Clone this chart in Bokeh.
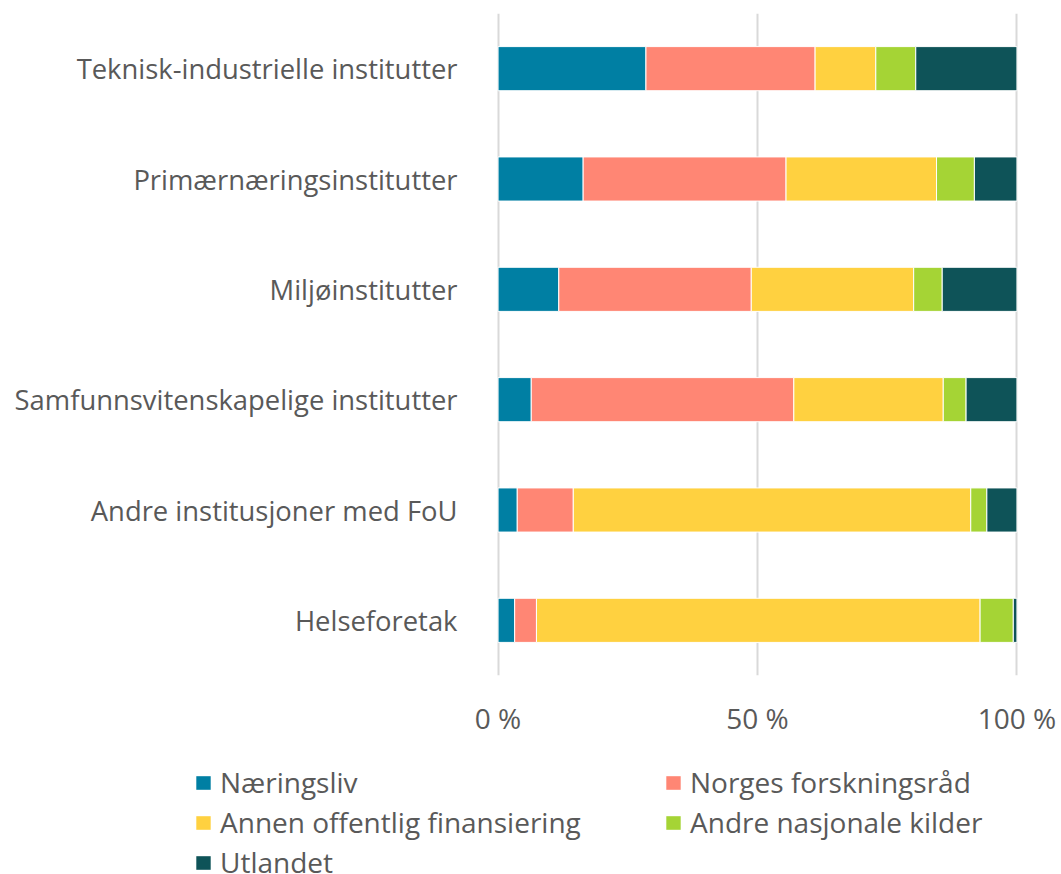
from bokeh.plotting import figure
from bokeh.layouts import column, row
from bokeh.models import FactorRange, FixedTicker, Legend, LegendItem, Range1d
from bokeh.embed import file_html
from bokeh.resources import INLINE

categories = ["Teknisk-industrielle institutter", "Primærnæringsinstitutter", "Miljøinstitutter",
              "Samfunnsvitenskapelige institutter", "Andre institusjoner med FoU", "Helseforetak"]
series = ["Næringsliv", "Norges forskningsråd", "Annen offentlig finansiering",
          "Andre nasjonale kilder", "Utlandet"]
naeringsliv = [28.5, 16.4, 11.7, 6.4, 3.7, 3.2]
forskningsrad = [32.6, 39.1, 37.1, 50.6, 10.8, 4.2]
annen_offentlig = [11.7, 29.0, 31.3, 28.8, 76.6, 85.5]
andre_nasjonale = [7.7, 7.3, 5.5, 4.4, 3.1, 6.4]
utlandet = [19.5, 8.2, 14.4, 9.8, 5.8, 0.7]
tick_values = [0, 50, 100]
tick_labels = ["0 %", "50 %", "100 %"]
colors = ["#007FA3", "#FF8674", "#FFD140", "#A5D435", "#0E5358"]

FONT = "Open Sans"
GREY = "#595959"

data = {"cat": categories}
for name, vals in zip(series, [naeringsliv, forskningsrad, annen_offentlig, andre_nasjonale, utlandet]):
    data[name] = vals

p = figure(width=1061, height=740, output_backend="svg", toolbar_location=None,
           y_range=FactorRange(factors=list(reversed(categories)), range_padding=0),
           x_range=Range1d(-0.3, 100.3))
p.min_border_left = 496
p.min_border_right = 43
p.min_border_top = 13
p.min_border_bottom = 65
p.outline_line_color = None

renderers = p.hbar_stack(series, y="cat", height=0.4, color=colors, source=data,
                         line_color="white", line_width=1)

p.ygrid.grid_line_color = None
p.xgrid.grid_line_color = "#D9D9D9"
p.xgrid.grid_line_width = 2
p.xaxis.ticker = FixedTicker(ticks=tick_values)
p.xaxis.major_label_overrides = {v: l for v, l in zip(tick_values, tick_labels)}
p.xaxis.axis_line_color = None
p.xaxis.major_tick_line_color = None
p.xaxis.minor_tick_line_color = None
p.xaxis.major_tick_out = 0
p.xaxis.major_label_standoff = 23
p.xaxis.major_label_text_font = FONT
p.xaxis.major_label_text_font_size = "28px"
p.xaxis.major_label_text_color = GREY

p.yaxis.axis_line_color = None
p.yaxis.major_tick_line_color = None
p.yaxis.major_tick_out = 0
p.yaxis.major_label_standoff = 39
p.yaxis.major_label_text_font = FONT
p.yaxis.major_label_text_font_size = "27.4px"
p.yaxis.major_label_text_color = GREY

# legend panel: same stacked series (hidden) so only the legend shows
lf = figure(width=1061, height=134, output_backend="svg", toolbar_location=None,
            x_axis_type=None, y_axis_type=None, min_border=0,
            x_range=Range1d(300, 400),
            y_range=FactorRange(factors=list(reversed(categories))))
lf.outline_line_color = None
lf.grid.visible = False
lrs = lf.hbar_stack(series, y="cat", height=0.4, color=colors, source=data,
                    line_color=None)
for r in lrs:
    r.visible = False
items = [LegendItem(label=s, renderers=[r]) for s, r in zip(series, lrs)]
legend = Legend(items=items, location=(194, -7), orientation="horizontal", ncols=2,
                label_text_font=FONT, label_text_font_size="28px", label_text_color=GREY,
                glyph_width=18, glyph_height=17, label_standoff=8, spacing=2,
                label_height=26, label_width=442, padding=0, margin=0,
                border_line_color=None, background_fill_alpha=0,
                inactive_fill_alpha=0)
lf.add_layout(legend, "center")

layout = column(row(p), row(lf), spacing=0)
open("out.html", "w").write(file_html(layout, INLINE))
